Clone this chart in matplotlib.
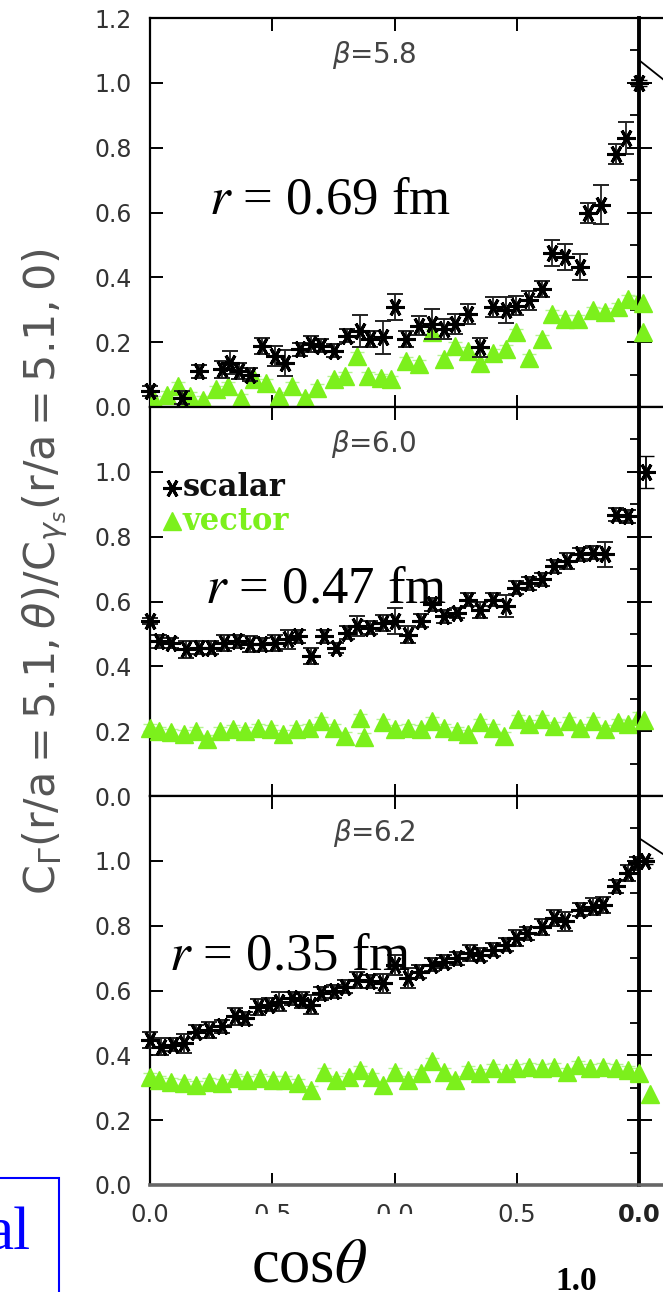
import numpy as np
import matplotlib.pyplot as plt
from matplotlib.lines import Line2D
from matplotlib.patches import Rectangle
from matplotlib.ticker import MultipleLocator

# ---- data (x = cos(theta) axis, y = ratio) ----
# beta = 5.8, r = 0.69 fm
x_s58 = [-1.000, -0.870, -0.801, -0.706, -0.671, -0.636, -0.593, -0.541, -0.489, -0.446,
         -0.385, -0.342, -0.299, -0.247, -0.195, -0.143, -0.100, -0.048, 0.004, 0.048,
         0.100, 0.152, 0.203, 0.247, 0.299, 0.351, 0.403, 0.455, 0.498, 0.550,
         0.602, 0.645, 0.697, 0.758, 0.792, 0.844, 0.905, 0.948, 1.000]
y_s58 = [0.049, 0.028, 0.110, 0.116, 0.137, 0.110, 0.100, 0.189, 0.158, 0.137,
         0.178, 0.194, 0.189, 0.173, 0.220, 0.235, 0.210, 0.215, 0.308, 0.210,
         0.251, 0.256, 0.240, 0.256, 0.287, 0.184, 0.308, 0.298, 0.313, 0.329,
         0.365, 0.474, 0.464, 0.432, 0.598, 0.624, 0.780, 0.830, 1.000]
e_s58 = [0.015, 0.020, 0.020, 0.025, 0.035, 0.025, 0.020, 0.025, 0.030, 0.040,
         0.020, 0.025, 0.020, 0.020, 0.020, 0.050, 0.025, 0.050, 0.040, 0.025,
         0.030, 0.045, 0.030, 0.030, 0.030, 0.030, 0.030, 0.040, 0.030, 0.030,
         0.025, 0.040, 0.040, 0.040, 0.030, 0.060, 0.030, 0.050, 0.010]
x_v58 = [-0.983, -0.931, -0.887, -0.835, -0.784, -0.732, -0.680, -0.628, -0.576, -0.524,
         -0.472, -0.420, -0.368, -0.316, -0.247, -0.203, -0.152, -0.108, -0.056, -0.013,
         0.048, 0.100, 0.152, 0.203, 0.247, 0.299, 0.351, 0.403, 0.455, 0.498,
         0.550, 0.602, 0.645, 0.697, 0.749, 0.810, 0.861, 0.913, 0.957, 1.000]
y_v58 = [0.023, 0.038, 0.064, 0.033, 0.023, 0.054, 0.064, 0.028, 0.085, 0.075,
         0.033, 0.064, 0.028, 0.059, 0.085, 0.095, 0.158, 0.095, 0.090, 0.085,
         0.142, 0.132, 0.230, 0.147, 0.189, 0.173, 0.137, 0.168, 0.178, 0.230,
         0.152, 0.210, 0.287, 0.272, 0.272, 0.298, 0.292, 0.308, 0.334, 0.329]

# beta = 6.0, r = 0.47 fm
x_s60 = [-1.000, -0.965, -0.913, -0.853, -0.801, -0.749, -0.697, -0.645, -0.593, -0.541,
         -0.489, -0.437, -0.394, -0.342, -0.290, -0.238, -0.195, -0.152, -0.100, -0.048,
         0.004, 0.056, 0.108, 0.152, 0.203, 0.255, 0.299, 0.351, 0.403, 0.455,
         0.498, 0.550, 0.602, 0.654, 0.706, 0.758, 0.810, 0.861, 0.905, 0.957]
y_s60 = [0.540, 0.478, 0.473, 0.452, 0.457, 0.457, 0.473, 0.478, 0.468, 0.468,
         0.473, 0.483, 0.493, 0.432, 0.493, 0.457, 0.504, 0.524, 0.519, 0.534,
         0.540, 0.498, 0.540, 0.591, 0.555, 0.565, 0.606, 0.575, 0.606, 0.586,
         0.642, 0.657, 0.668, 0.709, 0.724, 0.745, 0.750, 0.745, 0.868, 0.863]
e_s60 = [0.010, 0.020, 0.015, 0.025, 0.020, 0.020, 0.025, 0.020, 0.025, 0.020,
         0.025, 0.030, 0.020, 0.025, 0.020, 0.015, 0.020, 0.030, 0.020, 0.025,
         0.040, 0.025, 0.020, 0.020, 0.020, 0.015, 0.020, 0.025, 0.020, 0.035,
         0.020, 0.020, 0.020, 0.020, 0.025, 0.020, 0.020, 0.040, 0.020, 0.020]
x_v60 = [-1.000, -0.965, -0.913, -0.861, -0.810, -0.766, -0.714, -0.662, -0.610, -0.558,
         -0.506, -0.455, -0.403, -0.351, -0.299, -0.247, -0.203, -0.143, -0.126, -0.048,
         0.004, 0.056, 0.108, 0.152, 0.203, 0.255, 0.299, 0.351, 0.403, 0.446,
         0.506, 0.550, 0.602, 0.654, 0.714, 0.758, 0.810, 0.861, 0.913, 0.957, 1.000]
y_v60 = [0.211, 0.201, 0.196, 0.191, 0.201, 0.175, 0.201, 0.206, 0.201, 0.211,
         0.206, 0.191, 0.206, 0.211, 0.232, 0.211, 0.186, 0.242, 0.181, 0.227,
         0.206, 0.211, 0.206, 0.232, 0.211, 0.201, 0.191, 0.227, 0.211, 0.186,
         0.237, 0.221, 0.237, 0.216, 0.232, 0.211, 0.232, 0.206, 0.227, 0.221, 0.247]

# beta = 6.2, r = 0.35 fm
x_s62 = [-1.000, -0.957, -0.905, -0.861, -0.810, -0.758, -0.706, -0.654, -0.610, -0.558,
         -0.515, -0.472, -0.420, -0.377, -0.342, -0.299, -0.247, -0.203, -0.152, -0.100,
         -0.048, 0.004, 0.056, 0.100, 0.152, 0.203, 0.255, 0.307, 0.351, 0.403,
         0.455, 0.498, 0.541, 0.602, 0.654, 0.697, 0.758, 0.810, 0.853, 0.905, 0.957, 0.991]
y_s62 = [0.448, 0.427, 0.432, 0.437, 0.473, 0.478, 0.489, 0.520, 0.514, 0.550,
         0.556, 0.566, 0.576, 0.571, 0.556, 0.592, 0.597, 0.612, 0.633, 0.628,
         0.622, 0.679, 0.638, 0.658, 0.679, 0.689, 0.700, 0.715, 0.710, 0.725,
         0.741, 0.761, 0.777, 0.797, 0.823, 0.813, 0.849, 0.859, 0.864, 0.921, 0.962, 0.993]
e_s62 = [0.025, 0.025, 0.020, 0.030, 0.020, 0.025, 0.020, 0.025, 0.020, 0.025,
         0.020, 0.030, 0.020, 0.025, 0.030, 0.020, 0.020, 0.020, 0.025, 0.020,
         0.030, 0.030, 0.030, 0.020, 0.020, 0.020, 0.020, 0.025, 0.020, 0.020,
         0.020, 0.025, 0.020, 0.025, 0.025, 0.030, 0.020, 0.025, 0.025, 0.020, 0.025, 0.020]
x_v62 = [-1.000, -0.965, -0.913, -0.861, -0.810, -0.758, -0.706, -0.654, -0.602, -0.550,
         -0.498, -0.446, -0.394, -0.342, -0.290, -0.238, -0.186, -0.143, -0.091, -0.048,
         0.004, 0.056, 0.108, 0.152, 0.203, 0.247, 0.299, 0.351, 0.403, 0.455,
         0.498, 0.550, 0.602, 0.654, 0.706, 0.749, 0.801, 0.853, 0.905, 0.957, 1.000]
y_v62 = [0.334, 0.324, 0.319, 0.314, 0.309, 0.319, 0.314, 0.329, 0.324, 0.329,
         0.324, 0.324, 0.314, 0.293, 0.350, 0.324, 0.334, 0.355, 0.334, 0.309,
         0.350, 0.324, 0.345, 0.381, 0.350, 0.324, 0.355, 0.345, 0.360, 0.345,
         0.360, 0.365, 0.360, 0.365, 0.350, 0.370, 0.360, 0.365, 0.360, 0.355, 0.350]

# points of the neighbouring (cut-off) panel on the right
rx_s = [-1.000, -0.970, -0.975]
ry_s = [1.000, 1.000, 1.000]
re_s = [0.010, 0.050, 0.010]
rx_v = [[-0.985, -0.985], [-0.980], [-1.000, -0.955]]
ry_v = [[0.320, 0.230], [0.235], [0.345, 0.280]]
r_line_x = [-1.0, -0.9]
r_line_y = [[1.07, 1.01], None, [1.07, 1.02]]

betas = ['5.8', '6.0', '6.2']
radii = ['0.69', '0.47', '0.35']
scalar_sets = [(x_s58, y_s58, e_s58), (x_s60, y_s60, e_s60), (x_s62, y_s62, e_s62)]
vector_sets = [(x_v58, y_v58), (x_v60, y_v60), (x_v62, y_v62)]
xtick_labels = ['0.0', '0.5', '0.0', '0.5', '']

GREEN = '#7cf01c'
ASTER = (6, 2, 90)
W, H = 663, 1292

fig = plt.figure(figsize=(W / 100, H / 100), dpi=100)


def fx(x):
    return x / W


def fy(y):
    return 1 - y / H


def box(x0, y0, x1, y1):
    return [fx(x0), fy(y1), (x1 - x0) / W, (y1 - y0) / H]


edges = [18, 407, 796, 1185]
xl, xm = 150, 639
pw = xm - xl

for i in range(3):
    y0, y1 = edges[i], edges[i + 1]
    ax = fig.add_axes(box(xl, y0, xm, y1))
    axr = fig.add_axes(box(xm, y0, xm + pw, y1))

    xs, ys, es = scalar_sets[i]
    xv, yv = vector_sets[i]
    clip = (i == 0)
    ax.errorbar(xv, yv, yerr=0.012, fmt='^', color=GREEN, ms=13, mec=GREEN,
                ecolor='#b5f590', elinewidth=1, capsize=5, clip_on=clip, zorder=3)
    ax.errorbar(xs, ys, yerr=es, fmt='none', ecolor='#222222', elinewidth=1.3,
                capsize=5.5, capthick=1.4, clip_on=False, zorder=4)
    ax.plot(xs, ys, ls='none', marker=ASTER, ms=13, mew=2.2, color='black',
            clip_on=False, zorder=5)

    # right-hand (cut) panel
    axr.errorbar([rx_s[i]], [ry_s[i]], yerr=[re_s[i]], fmt='none', ecolor='black',
                 elinewidth=1.3, capsize=6, clip_on=False)
    axr.plot([rx_s[i]], [ry_s[i]], ls='none', marker=ASTER, ms=13, mew=2.2,
             color='black', clip_on=False, zorder=5)
    axr.plot(rx_v[i], ry_v[i], ls='none', marker='^', ms=13, color=GREEN,
             clip_on=False, zorder=3)
    if r_line_y[i] is not None:
        axr.plot(r_line_x, r_line_y[i], color='black', lw=1.3)

    for a in (ax, axr):
        a.set_xlim(-1, 1)
        a.set_ylim(0, 1.2)
        a.set_xticks([-1, -0.5, 0, 0.5, 1])
        a.set_yticks(np.arange(0, 1.21, 0.2))
        for s in a.spines.values():
            s.set_linewidth(1.6)
    axr.spines['left'].set_linewidth(2.8)
    ax.spines['right'].set_visible(False)

    ax.yaxis.set_minor_locator(MultipleLocator(0.1))
    ax.tick_params(axis='both', which='major', direction='in', length=9, width=1.4,
                   top=True, right=True, labelsize=17, labelcolor='#333333', pad=13)
    ax.tick_params(axis='y', which='minor', direction='in', length=6.5, width=1.3,
                   left=False, right=True)
    axr.tick_params(axis='both', which='major', direction='in', length=9, width=1.4,
                    top=True, labelleft=False, labelsize=17, pad=12)

    ylabs = ['0.0', '0.2', '0.4', '0.6', '0.8', '1.0', '1.2' if i == 0 else '']
    ax.set_yticklabels(ylabs)

    if i < 2:
        ax.set_xticklabels([])
        axr.set_xticklabels([])
    else:
        ax.set_xticklabels(xtick_labels)
        axr.set_xticklabels(['0.0', '', '', '', ''], fontweight='bold', color='#222222')
        ax.tick_params(axis='x', pad=13, labelsize=17.5)
        axr.tick_params(axis='x', pad=13, labelsize=17.5)
        ax.spines['bottom'].set_color('#666666')
        ax.spines['bottom'].set_linewidth(2.6)
        axr.spines['bottom'].set_color('#666666')
        axr.spines['bottom'].set_linewidth(2.6)

    ax.text(0.458, 0.905, r'$\beta$=' + betas[i], transform=ax.transAxes, ha='center',
            va='center', fontsize=20, color='#444444')

# r labels (Times-like)
r_pos = [(209, 213), (205, 602), (169, 970)]
for (px, py), rv in zip(r_pos, radii):
    fig.text(fx(px), fy(py), r'$r$ = ' + rv + ' fm', family='Liberation Serif',
             math_fontfamily='stix', fontsize=38, va='baseline', ha='left', zorder=10)

# legend in the middle panel
fig.add_artist(Line2D([fx(172)], [fy(488)], marker=ASTER, ms=13, mew=2.2, color='black',
                      transform=fig.transFigure))
fig.add_artist(Line2D([fx(172)], [fy(521)], marker='^', ms=13, color=GREEN, ls='none',
                      transform=fig.transFigure))
fig.text(fx(183), fy(488), 'scalar', family='DejaVu Serif', weight='bold', fontsize=22,
         va='center', color='#111111')
fig.text(fx(183), fy(521), 'vector', family='DejaVu Serif', weight='bold', fontsize=22,
         va='center', color=GREEN)

# y label
fig.text(fx(45), fy(572),
         r'$\mathrm{C}_\Gamma\mathrm{(r/a{=}5.1,}\theta\mathrm{)/C}_{\gamma_s}\mathrm{(r/a{=}5.1,0)}$',
         rotation=90, ha='center', va='center', fontsize=31, color='#555555',
         math_fontfamily='dejavusans')

# white cover over part of the x tick labels, then the axis title
fig.add_artist(Rectangle((fx(240), 0), (480 - 240) / W, fy(1214), transform=fig.transFigure,
                         facecolor='white', edgecolor='none', zorder=8))
fig.text(fx(309), fy(1282), r'cos$\theta$', family='Liberation Serif',
         math_fontfamily='stix', fontsize=45, ha='center', va='baseline', zorder=10)
fig.text(fx(576), fy(1266), '1.0', family='Liberation Serif', weight='bold',
         fontsize=24, ha='center', va='top', zorder=10)

# blue framed box at the lower left, cut by the image edge
fig.add_artist(Rectangle((fx(-10), fy(1310)), 69 / W, (1310 - 1178) / H,
                         transform=fig.transFigure, facecolor='white', edgecolor='#0000ff',
                         lw=1.5, zorder=9))
fig.text(fx(31), fy(1250), 'al', family='Liberation Serif', fontsize=44, color='#0000ff',
         ha='right', va='baseline', zorder=10)

fig.savefig('out.png', dpi=100)
